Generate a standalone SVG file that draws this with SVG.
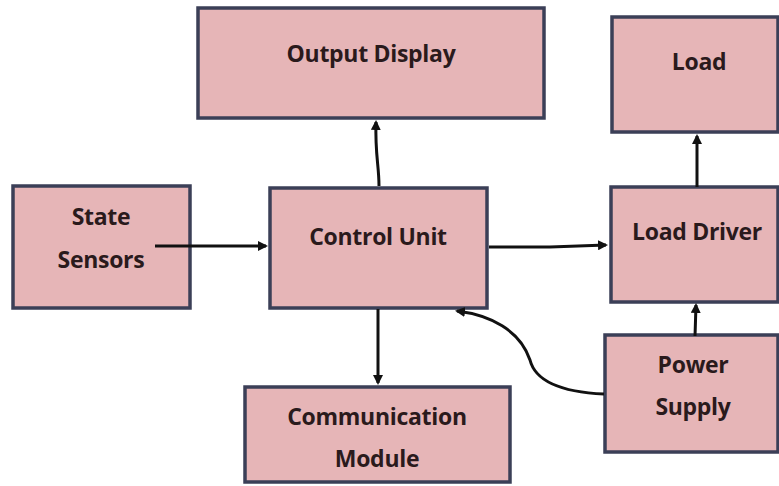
<svg xmlns="http://www.w3.org/2000/svg" width="779" height="486" viewBox="0 0 779 486">
<defs>
<style>
.box{fill:#E6B5B7;stroke:#3B3F57;stroke-width:3.5}
.lbl{font-family:"Open Sans","Liberation Sans",sans-serif;font-weight:bold;font-size:23px;fill:#2A1A1C;text-anchor:middle;letter-spacing:-0.3px}
.con{fill:none;stroke:#111;stroke-width:3}
</style>
<marker id="ah" markerWidth="10" markerHeight="10" refX="8" refY="5" orient="auto" markerUnits="userSpaceOnUse">
<path d="M0,0 L10,5 L0,10 Z" fill="#111"/>
</marker>
</defs>
<rect width="779" height="486" fill="#fff"/>
<g id="output-display"><rect class="box" x="198" y="8" width="346" height="110"/><text class="lbl" x="371" y="62">Output Display</text></g>
<g id="load"><rect class="box" x="612" y="17" width="166" height="115"/><text class="lbl" x="699" y="70">Load</text></g>
<g id="state-sensors"><rect class="box" x="13" y="186" width="177" height="122"/><text class="lbl" x="101" y="225">State</text><text class="lbl" x="101" y="268">Sensors</text></g>
<g id="control-unit"><rect class="box" x="270" y="188" width="217" height="120"/><text class="lbl" x="378" y="245">Control Unit</text></g>
<g id="load-driver"><rect class="box" x="611" y="187" width="167" height="115"/><text class="lbl" x="697" y="240">Load Driver</text></g>
<g id="power-supply"><rect class="box" x="605" y="335" width="173" height="117"/><text class="lbl" x="693" y="373">Power</text><text class="lbl" x="693" y="415">Supply</text></g>
<g id="communication-module"><rect class="box" x="245" y="387" width="265" height="95"/><text class="lbl" x="377" y="425">Communication</text><text class="lbl" x="377" y="467">Module</text></g>
<g id="connectors">
<path class="con" d="M155,246 L266,246" marker-end="url(#ah)"/>
<path class="con" d="M379,186 C379,165 375,155 376,122" marker-end="url(#ah)"/>
<path class="con" d="M489,247 L550,247 L606,245" marker-end="url(#ah)"/>
<path class="con" d="M697,187 L697,136" marker-end="url(#ah)"/>
<path class="con" d="M695,336 L696,305" marker-end="url(#ah)"/>
<path class="con" d="M378,309 L378,383" marker-end="url(#ah)"/>
<path class="con" d="M604,394 C560,392 535,380 530,360 C520,330 490,315 457,311" marker-end="url(#ah)"/>
</g>
</svg>
